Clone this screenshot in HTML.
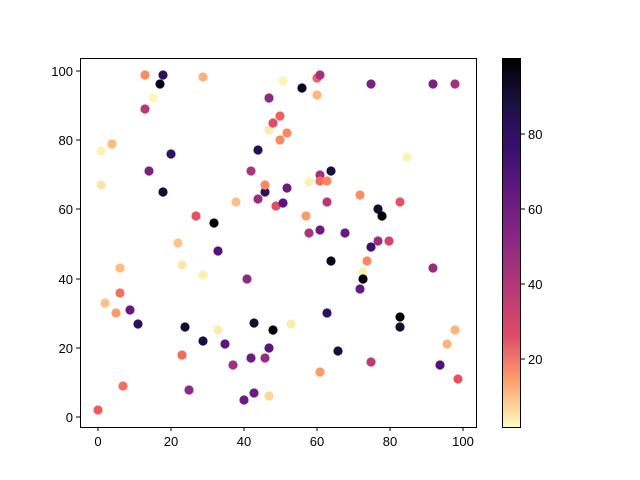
<!DOCTYPE html>
<html><head><meta charset="utf-8"><style>body{margin:0;background:#fff}svg{display:block}text{font-family:"Liberation Sans","DejaVu Sans",sans-serif;font-size:13px;fill:#000}</style></head>
<body>
<svg width="640" height="480" viewBox="0 0 640 480">
<defs><linearGradient id="g" x1="0" y1="0" x2="0" y2="1">
<stop offset="0" stop-color="#000004"/><stop offset="0.125" stop-color="#1c1044"/><stop offset="0.25" stop-color="#3b0f70"/><stop offset="0.375" stop-color="#641a80"/><stop offset="0.5" stop-color="#8c2981"/><stop offset="0.625" stop-color="#b73779"/><stop offset="0.75" stop-color="#de4968"/><stop offset="0.875" stop-color="#fe9f6d"/><stop offset="1" stop-color="#fcfdbf"/></linearGradient></defs>
<g id="pts">
<circle cx="98" cy="410" r="4.6" fill="#ef5a5e"/>
<circle cx="101" cy="151" r="4.6" fill="#fcf2b4"/>
<circle cx="101" cy="185" r="4.6" fill="#fde5a7"/>
<circle cx="105" cy="303" r="4.6" fill="#fec287"/>
<circle cx="112" cy="144" r="4.6" fill="#fdb97f"/>
<circle cx="116" cy="313" r="4.6" fill="#fe9a6b"/>
<circle cx="120" cy="268" r="4.6" fill="#fdbc82"/>
<circle cx="120" cy="293" r="4.6" fill="#f5705c"/>
<circle cx="123" cy="386" r="4.6" fill="#f5705c"/>
<circle cx="130" cy="310" r="4.6" fill="#641a80"/>
<circle cx="138" cy="324" r="4.6" fill="#2c115f"/>
<circle cx="145" cy="75" r="4.6" fill="#fa8a63"/>
<circle cx="145" cy="109" r="4.6" fill="#b73779"/>
<circle cx="149" cy="171" r="4.6" fill="#7a2282"/>
<circle cx="153" cy="98" r="4.6" fill="#fcf6ba"/>
<circle cx="160" cy="84" r="4.6" fill="#07061a"/>
<circle cx="163" cy="75" r="4.6" fill="#2a1158"/>
<circle cx="163" cy="192" r="4.6" fill="#120d31"/>
<circle cx="171" cy="154" r="4.6" fill="#311165"/>
<circle cx="178" cy="243" r="4.6" fill="#fdc58c"/>
<circle cx="182" cy="265" r="4.6" fill="#fce8aa"/>
<circle cx="182" cy="355" r="4.6" fill="#f4695c"/>
<circle cx="185" cy="327" r="4.6" fill="#120d31"/>
<circle cx="189" cy="390" r="4.6" fill="#8c2981"/>
<circle cx="196" cy="216" r="4.6" fill="#e8525f"/>
<circle cx="203" cy="77" r="4.6" fill="#feb17a"/>
<circle cx="203" cy="275" r="4.6" fill="#fcefb2"/>
<circle cx="203" cy="341" r="4.6" fill="#1a0f3f"/>
<circle cx="214" cy="223" r="4.6" fill="#000004"/>
<circle cx="218" cy="251" r="4.6" fill="#51127c"/>
<circle cx="218" cy="330" r="4.6" fill="#fcebae"/>
<circle cx="225" cy="344" r="4.6" fill="#5a167e"/>
<circle cx="233" cy="365" r="4.6" fill="#a3307e"/>
<circle cx="236" cy="202" r="4.6" fill="#fdc088"/>
<circle cx="244" cy="400" r="4.6" fill="#6a1c81"/>
<circle cx="247" cy="279" r="4.6" fill="#8c2981"/>
<circle cx="251" cy="171" r="4.6" fill="#b0347b"/>
<circle cx="251" cy="358" r="4.6" fill="#6a1c81"/>
<circle cx="254" cy="323" r="4.6" fill="#150e37"/>
<circle cx="254" cy="393" r="4.6" fill="#6a1c81"/>
<circle cx="258" cy="150" r="4.6" fill="#221150"/>
<circle cx="258" cy="199" r="4.6" fill="#9a2d80"/>
<circle cx="265" cy="192" r="4.6" fill="#2e1162"/>
<circle cx="265" cy="185" r="4.6" fill="#fb8861"/>
<circle cx="265" cy="358" r="4.6" fill="#962c80"/>
<circle cx="269" cy="98" r="4.6" fill="#8c2981"/>
<circle cx="269" cy="130" r="4.6" fill="#fcebae"/>
<circle cx="269" cy="348" r="4.6" fill="#5a167e"/>
<circle cx="269" cy="396" r="4.6" fill="#fdd49b"/>
<circle cx="273" cy="123" r="4.6" fill="#e24d66"/>
<circle cx="273" cy="330" r="4.6" fill="#000004"/>
<circle cx="276" cy="206" r="4.6" fill="#e24d66"/>
<circle cx="280" cy="116" r="4.6" fill="#f1605d"/>
<circle cx="280" cy="140" r="4.6" fill="#fb8861"/>
<circle cx="283" cy="203" r="4.6" fill="#5a167e"/>
<circle cx="283" cy="81" r="4.6" fill="#fcf3b6"/>
<circle cx="287" cy="133" r="4.6" fill="#fb8861"/>
<circle cx="287" cy="188" r="4.6" fill="#6a1c81"/>
<circle cx="291" cy="324" r="4.6" fill="#fcebae"/>
<circle cx="302" cy="88" r="4.6" fill="#07061a"/>
<circle cx="306" cy="216" r="4.6" fill="#fc9c69"/>
<circle cx="309" cy="182" r="4.6" fill="#fcf0b2"/>
<circle cx="309" cy="233" r="4.6" fill="#ad347c"/>
<circle cx="317" cy="78" r="4.6" fill="#f1605d"/>
<circle cx="317" cy="95" r="4.6" fill="#fdb47d"/>
<circle cx="320" cy="75" r="4.6" fill="#a3307e"/>
<circle cx="320" cy="175" r="4.6" fill="#a3307e"/>
<circle cx="320" cy="181" r="4.6" fill="#f4695c"/>
<circle cx="320" cy="230" r="4.6" fill="#6a1c81"/>
<circle cx="320" cy="372" r="4.6" fill="#fd9a6a"/>
<circle cx="327" cy="181" r="4.6" fill="#fb8861"/>
<circle cx="327" cy="202" r="4.6" fill="#b73779"/>
<circle cx="327" cy="313" r="4.6" fill="#2c115f"/>
<circle cx="331" cy="171" r="4.6" fill="#1a0f3f"/>
<circle cx="331" cy="261" r="4.6" fill="#07061a"/>
<circle cx="338" cy="351" r="4.6" fill="#1a0f3f"/>
<circle cx="345" cy="233" r="4.6" fill="#641a80"/>
<circle cx="360" cy="195" r="4.6" fill="#fb8d64"/>
<circle cx="360" cy="289" r="4.6" fill="#641a80"/>
<circle cx="363" cy="272" r="4.6" fill="#fcf0b2"/>
<circle cx="363" cy="279" r="4.6" fill="#000004"/>
<circle cx="367" cy="261" r="4.6" fill="#fb8861"/>
<circle cx="371" cy="247" r="4.6" fill="#3b0f70"/>
<circle cx="371" cy="84" r="4.6" fill="#7a2282"/>
<circle cx="371" cy="362" r="4.6" fill="#c03a76"/>
<circle cx="378" cy="209" r="4.6" fill="#120d31"/>
<circle cx="378" cy="241" r="4.6" fill="#9a2d80"/>
<circle cx="382" cy="216" r="4.6" fill="#000004"/>
<circle cx="389" cy="241" r="4.6" fill="#d3436e"/>
<circle cx="400" cy="202" r="4.6" fill="#e8525f"/>
<circle cx="400" cy="317" r="4.6" fill="#000004"/>
<circle cx="400" cy="327" r="4.6" fill="#120d31"/>
<circle cx="407" cy="157" r="4.6" fill="#fcf2b4"/>
<circle cx="433" cy="84" r="4.6" fill="#7a2282"/>
<circle cx="433" cy="268" r="4.6" fill="#962c80"/>
<circle cx="440" cy="365" r="4.6" fill="#51127c"/>
<circle cx="447" cy="344" r="4.6" fill="#fdb47d"/>
<circle cx="455" cy="330" r="4.6" fill="#fdb47d"/>
<circle cx="455" cy="84" r="4.6" fill="#a3307e"/>
<circle cx="458" cy="379" r="4.6" fill="#e8525f"/>
</g>
<rect x="80.5" y="58.5" width="396" height="369" fill="none" stroke="#000" stroke-width="1"/>
<g stroke="#000" stroke-width="1">
<line x1="98" y1="427" x2="98" y2="431"/><line x1="171" y1="427" x2="171" y2="431"/><line x1="244" y1="427" x2="244" y2="431"/><line x1="317" y1="427" x2="317" y2="431"/><line x1="390" y1="427" x2="390" y2="431"/><line x1="463" y1="427" x2="463" y2="431"/>
<line x1="76" y1="417" x2="80" y2="417"/><line x1="76" y1="348" x2="80" y2="348"/><line x1="76" y1="279" x2="80" y2="279"/><line x1="76" y1="209" x2="80" y2="209"/><line x1="76" y1="140" x2="80" y2="140"/><line x1="76" y1="71" x2="80" y2="71"/>
</g>
<g text-anchor="middle">
<text x="98" y="446">0</text><text x="171" y="446">20</text><text x="244" y="446">40</text><text x="317" y="446">60</text><text x="390" y="446">80</text><text x="463" y="446">100</text>
</g>
<g text-anchor="end">
<text x="73" y="422">0</text><text x="73" y="353">20</text><text x="73" y="284">40</text><text x="73" y="214">60</text><text x="73" y="145">80</text><text x="73" y="76">100</text>
</g>
<rect x="502" y="58" width="18" height="369" fill="url(#g)"/>
<rect x="502.5" y="58.5" width="18" height="369" fill="none" stroke="#000" stroke-width="1"/>
<g stroke="#000"><line x1="521" y1="359" x2="525" y2="359"/><line x1="521" y1="284" x2="525" y2="284"/><line x1="521" y1="209" x2="525" y2="209"/><line x1="521" y1="134" x2="525" y2="134"/></g>
<text x="528" y="364">20</text><text x="528" y="289">40</text><text x="528" y="214">60</text><text x="528" y="139">80</text>
</svg>
</body></html>
